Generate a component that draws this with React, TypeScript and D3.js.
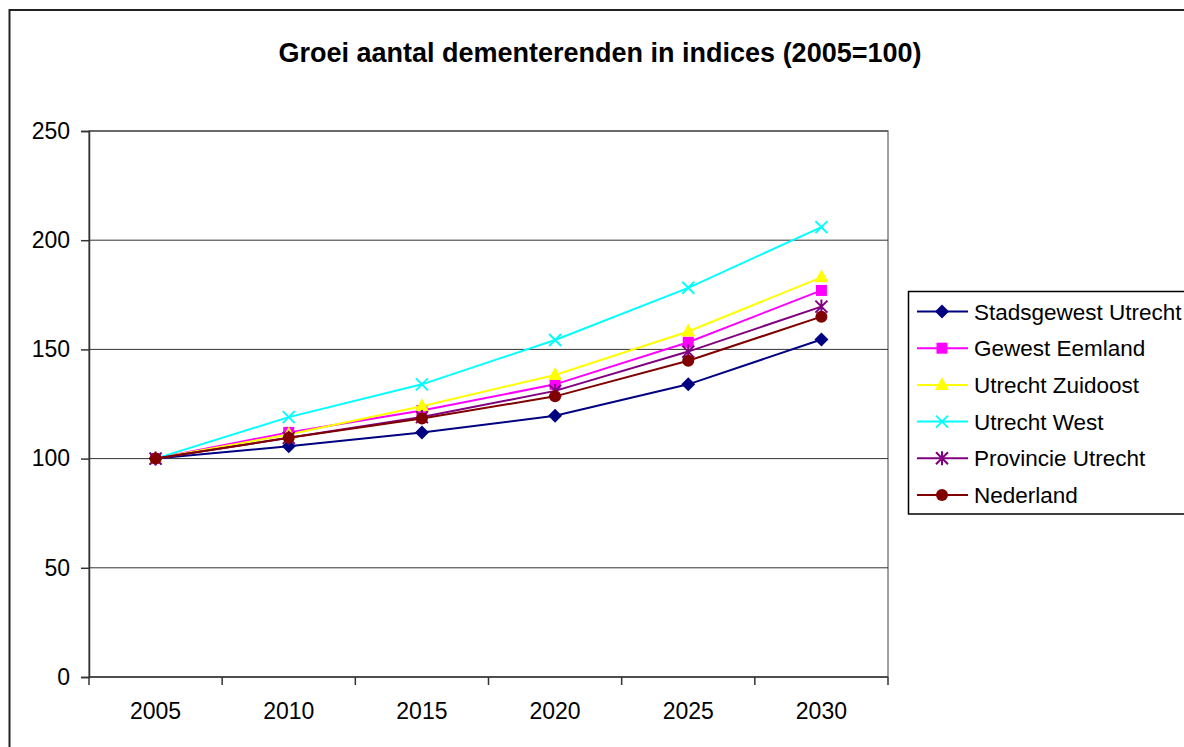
import { useEffect, useRef } from 'react';
import * as d3 from 'd3';

const years = ['2005', '2010', '2015', '2020', '2025', '2030'];
const yTicks = [0, 50, 100, 150, 200, 250];

const seriesNames = [
  'Stadsgewest Utrecht',
  'Gewest Eemland',
  'Utrecht Zuidoost',
  'Utrecht West',
  'Provincie Utrecht',
  'Nederland',
];

const stadsgewest = [100, 105.7, 112, 119.6, 134, 154.5];
const eemland = [100, 112, 122, 134, 153.3, 177];
const zuidoost = [100, 111, 124, 138.3, 158.2, 183];
const west = [100, 119, 134, 154.3, 178.2, 206];
const provincie = [100, 109.5, 119, 131, 149, 169.6];
const nederland = [100, 109.5, 118.4, 128.5, 144.8, 165];

const seriesValues = [stadsgewest, eemland, zuidoost, west, provincie, nederland];
const seriesColors = ['#000080', '#FF00FF', '#FFFF00', '#00FFFF', '#800080', '#800000'];
const seriesMarkers = ['diamond', 'square', 'triangle', 'x', 'star', 'circle'];

const FONT = '"Liberation Sans", Arial, sans-serif';

const App: React.FC = () => {
  const svgRef = useRef<SVGSVGElement | null>(null);

  useEffect(() => {
    if (svgRef.current === null) return;
    const svg = d3.select(svgRef.current);
    svg.selectAll('*').remove();

    const W = 1184;
    const H = 747;
    const plot = { left: 89, top: 131, right: 888, bottom: 677 };

    // kader van de grafiek
    svg
      .append('rect')
      .attr('x', 9.5)
      .attr('y', 10)
      .attr('width', W + 20)
      .attr('height', H + 20)
      .attr('fill', '#fff')
      .attr('stroke', '#222')
      .attr('stroke-width', 2);

    svg
      .append('text')
      .attr('x', 600)
      .attr('y', 62)
      .attr('text-anchor', 'middle')
      .attr('font-family', FONT)
      .attr('font-weight', 'bold')
      .attr('font-size', 27)
      .text('Groei aantal dementerenden in indices (2005=100)');

    const x = d3.scaleBand<string>().domain(years).range([plot.left, plot.right]);
    const y = d3.scaleLinear().domain([0, 250]).range([plot.bottom, plot.top]);

    // plotgebied
    svg
      .append('rect')
      .attr('x', plot.left)
      .attr('y', plot.top)
      .attr('width', plot.right - plot.left)
      .attr('height', plot.bottom - plot.top)
      .attr('fill', 'none')
      .attr('stroke', '#808080')
      .attr('stroke-width', 1.5);

    // rasterlijnen
    svg
      .selectAll('.grid')
      .data(yTicks.filter((t) => t > 0))
      .enter()
      .append('line')
      .attr('x1', plot.left)
      .attr('x2', plot.right)
      .attr('y1', (d) => y(d))
      .attr('y2', (d) => y(d))
      .attr('stroke', '#333')
      .attr('stroke-width', 1);

    // y-as
    const yAxis = svg
      .append('g')
      .attr('transform', `translate(${plot.left},0)`)
      .call(d3.axisLeft(y).tickValues(yTicks).tickSize(8).tickPadding(11));
    yAxis.select('.domain').attr('stroke', '#333').attr('stroke-width', 1.5);
    yAxis.selectAll('.tick line').attr('stroke', '#333').attr('stroke-width', 1.5);
    yAxis
      .selectAll('.tick text')
      .attr('font-family', FONT)
      .attr('font-size', 23)
      .attr('fill', '#000');

    // x-as
    const xAxisG = svg.append('g').attr('transform', `translate(0,${plot.bottom})`);
    xAxisG
      .append('line')
      .attr('x1', plot.left)
      .attr('x2', plot.right)
      .attr('stroke', '#333')
      .attr('stroke-width', 1.5);
    xAxisG
      .selectAll('.xtick')
      .data([...years.map((d) => x(d)!), plot.right])
      .enter()
      .append('line')
      .attr('x1', (d) => d)
      .attr('x2', (d) => d)
      .attr('y1', 0)
      .attr('y2', 8)
      .attr('stroke', '#333')
      .attr('stroke-width', 1.5);
    xAxisG
      .selectAll('.xlabel')
      .data(years)
      .enter()
      .append('text')
      .attr('x', (d) => x(d)! + x.bandwidth() / 2)
      .attr('y', 42)
      .attr('text-anchor', 'middle')
      .attr('font-family', FONT)
      .attr('font-size', 23)
      .text((d) => d);

    const drawMarker = (
      g: d3.Selection<SVGGElement, unknown, null, undefined>,
      type: string,
      color: string,
      cx: number,
      cy: number
    ) => {
      if (type === 'diamond') {
        g.append('path')
          .attr('d', `M${cx},${cy - 7}L${cx + 7},${cy}L${cx},${cy + 7}L${cx - 7},${cy}Z`)
          .attr('fill', color);
      } else if (type === 'square') {
        g.append('rect')
          .attr('x', cx - 5.5)
          .attr('y', cy - 5.5)
          .attr('width', 11)
          .attr('height', 11)
          .attr('fill', color);
      } else if (type === 'triangle') {
        g.append('path')
          .attr('d', `M${cx},${cy - 8}L${cx + 7},${cy + 5}L${cx - 7},${cy + 5}Z`)
          .attr('fill', color);
      } else if (type === 'x') {
        g.append('path')
          .attr('d', `M${cx - 6},${cy - 6}L${cx + 6},${cy + 6}M${cx + 6},${cy - 6}L${cx - 6},${cy + 6}`)
          .attr('stroke', color)
          .attr('stroke-width', 2)
          .attr('fill', 'none');
      } else if (type === 'star') {
        g.append('path')
          .attr(
            'd',
            `M${cx - 6},${cy - 6}L${cx + 6},${cy + 6}M${cx + 6},${cy - 6}L${cx - 6},${cy + 6}M${cx},${cy - 7}L${cx},${cy + 7}`
          )
          .attr('stroke', color)
          .attr('stroke-width', 2)
          .attr('fill', 'none');
      } else {
        g.append('circle').attr('cx', cx).attr('cy', cy).attr('r', 6).attr('fill', color);
      }
    };

    const line = d3
      .line<number>()
      .x((_, i) => x(years[i])! + x.bandwidth() / 2)
      .y((d) => y(d));

    seriesValues.forEach((vals, si) => {
      const g = svg.append('g');
      g.append('path')
        .attr('d', line(vals))
        .attr('fill', 'none')
        .attr('stroke', seriesColors[si])
        .attr('stroke-width', 2);
      vals.forEach((v, i) => {
        drawMarker(g, seriesMarkers[si], seriesColors[si], x(years[i])! + x.bandwidth() / 2, y(v));
      });
    });

    // legenda
    const legend = svg.append('g');
    legend
      .append('rect')
      .attr('x', 908.5)
      .attr('y', 291.5)
      .attr('width', 300)
      .attr('height', 222.5)
      .attr('fill', '#fff')
      .attr('stroke', '#000')
      .attr('stroke-width', 1.5);
    seriesNames.forEach((name, i) => {
      const ly = 311.5 + i * 36.7;
      const lg = legend.append('g');
      lg.append('line')
        .attr('x1', 917)
        .attr('x2', 968)
        .attr('y1', ly)
        .attr('y2', ly)
        .attr('stroke', seriesColors[i])
        .attr('stroke-width', 2);
      drawMarker(lg, seriesMarkers[i], seriesColors[i], 942, ly);
      lg.append('text')
        .attr('x', 974)
        .attr('y', ly + 8)
        .attr('font-family', FONT)
        .attr('font-size', 22.5)
        .text(name);
    });
  }, []);

  return (
    <svg
      ref={svgRef}
      width={1184}
      height={747}
      style={{ position: 'absolute', left: 0, top: 0, background: '#fff' }}
    ></svg>
  );
};

export default App;
